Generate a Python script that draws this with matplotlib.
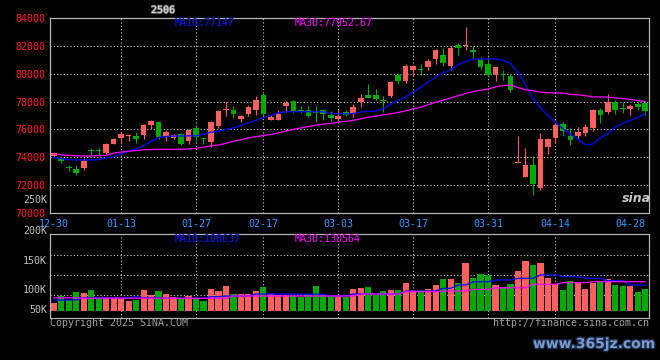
import numpy as np
import matplotlib
matplotlib.use("Agg")
import matplotlib.pyplot as plt
import matplotlib.patheffects as pe

plt.rcParams['font.family'] = 'DejaVu Sans Mono'

# trading days of contract 2506
dates = ['12-30', '12-31', '01-02', '01-03', '01-06', '01-07', '01-08', '01-09', '01-10', '01-13',
         '01-14', '01-15', '01-16', '01-17', '01-20', '01-21', '01-22', '01-23', '01-24', '01-27',
         '02-05', '02-06', '02-07', '02-10', '02-11', '02-12', '02-13', '02-14', '02-17', '02-18',
         '02-19', '02-20', '02-21', '02-24', '02-25', '02-26', '02-27', '02-28', '03-03', '03-04',
         '03-05', '03-06', '03-07', '03-10', '03-11', '03-12', '03-13', '03-14', '03-17', '03-18',
         '03-19', '03-20', '03-21', '03-24', '03-25', '03-26', '03-27', '03-28', '03-31', '04-01',
         '04-02', '04-03', '04-07', '04-08', '04-09', '04-10', '04-11', '04-14', '04-15', '04-16',
         '04-17', '04-18', '04-21', '04-22', '04-23', '04-24', '04-25', '04-28', '04-29', '04-30']

opens = [74090, 73980, 73300, 73190, 73240, 74520, 74520, 74290, 74980, 75360,
         75550, 75520, 75570, 76310, 76500, 75430, 75380, 75640, 75140, 76120,
         75330, 75090, 76240, 77400, 77430, 76750, 77140, 77430, 78500, 76710,
         76710, 77660, 78020, 77380, 77430, 77210, 77380, 77000, 76760, 77240,
         77140, 77980, 78500, 78500, 78100, 78380, 79930, 79450, 80290, 80310,
         80480, 81050, 81360, 80520, 82070, 81980, 81710, 81000, 80710, 79880,
         79950, 79860, 73620, 72590, 73430, 71790, 74760, 75410, 76360, 75520,
         75520, 75760, 76070, 77430, 77260, 77980, 77500, 77500, 77790, 77900]
closes = [74330, 73740, 73220, 72860, 73710, 74480, 74460, 74930, 75290, 75670,
          75590, 75290, 76290, 76600, 75480, 75790, 75570, 74930, 75950, 75480,
          75310, 76520, 77310, 77450, 77140, 77000, 77590, 78140, 77100, 76910,
          77140, 77900, 77310, 77300, 76950, 77170, 77140, 76810, 76950, 77070,
          77590, 78260, 78260, 78210, 78050, 79410, 79450, 80520, 80570, 80270,
          80930, 81710, 80790, 81880, 81880, 82020, 81590, 80450, 79930, 80480,
          79910, 78860, 73640, 73430, 72070, 75290, 75290, 76290, 75880, 75210,
          75810, 76170, 77380, 77070, 77950, 77380, 77460, 77660, 77590, 77300]
highs = [74400, 74100, 73480, 73430, 73950, 74690, 74660, 75000, 75410, 75810,
         75640, 75810, 76410, 76710, 76620, 75950, 75640, 75710, 76020, 76290,
         75350, 76590, 77430, 77980, 77660, 77070, 77760, 78380, 78690, 77070,
         77430, 78020, 78140, 77660, 77660, 77660, 77450, 77290, 77430, 77430,
         77800, 78570, 79290, 78930, 78380, 79480, 80020, 80690, 80570, 80690,
         81050, 81780, 81880, 82000, 82190, 83380, 82000, 81190, 81190, 80480,
         80290, 79980, 75520, 74640, 74090, 75710, 75360, 76480, 76520, 76120,
         76190, 76410, 77480, 77550, 78570, 78140, 77980, 77790, 78020, 78020]
lows = [74000, 73620, 73020, 72710, 73100, 74170, 74200, 74250, 74930, 74930,
        75140, 75000, 75340, 76000, 75290, 75160, 75290, 74860, 74930, 75140,
        74980, 74760, 76120, 76950, 76840, 76520, 77000, 77070, 77000, 76660,
        76660, 77260, 77190, 77190, 76910, 76520, 76700, 76620, 76600, 76950,
        76900, 77590, 78260, 78140, 77260, 78310, 79260, 79310, 79860, 79930,
        80240, 80720, 80520, 80240, 81360, 81710, 81050, 80260, 79740, 79450,
        79570, 78670, 73620, 72590, 71310, 71660, 74210, 75000, 75520, 74880,
        75290, 75520, 75880, 76480, 77120, 77120, 77190, 77020, 77380, 77050]
ma10 = [73980, 73910, 73830, 73810, 73810, 73810, 73830, 73950, 74050, 74260,
        74440, 74600, 74820, 75150, 75420, 75500, 75520, 75530, 75540, 75540,
        75660, 75800, 75870, 76000, 76120, 76290, 76480, 76650, 76850, 77000,
        77200, 77260, 77270, 77270, 77270, 77270, 77260, 77150, 77120, 77120,
        77150, 77250, 77300, 77320, 77500, 77800, 78070, 78330, 78680, 79020,
        79400, 79750, 80050, 80300, 80640, 80880, 81050, 81060, 81060, 81060,
        80960, 80750, 80100, 79200, 78250, 77550, 77000, 76500, 76050, 75650,
        75300, 74900, 74950, 75400, 75700, 76150, 76450, 76650, 76850, 77150]
ma30 = [74250, 74180, 74140, 74120, 74090, 74090, 74120, 74140, 74300, 74380,
        74430, 74480, 74540, 74560, 74570, 74570, 74570, 74570, 74600, 74640,
        74720, 74830, 74880, 75000, 75150, 75250, 75400, 75480, 75560, 75640,
        75760, 75880, 76000, 76110, 76200, 76300, 76380, 76430, 76520, 76580,
        76650, 76760, 76880, 76950, 77050, 77120, 77220, 77330, 77480, 77590,
        77780, 77950, 78100, 78260, 78420, 78580, 78720, 78820, 78900, 79050,
        79150, 79180, 79000, 78850, 78780, 78680, 78640, 78620, 78610, 78520,
        78480, 78420, 78340, 78330, 78320, 78260, 78220, 78150, 78080, 78000]

# volume in thousands
volume = [30.8, 47.5, 37.5, 58.3, 55.8, 62.5, 41.7, 44.2, 44.2, 40.0,
          35.0, 37.5, 62.5, 50.0, 60.0, 52.5, 44.0, 41.7, 47.5, 41.7,
          35.8, 65.0, 60.0, 72.5, 52.5, 52.5, 52.5, 60.0, 70.0, 52.5,
          49.0, 49.0, 47.5, 45.8, 52.5, 72.5, 50.0, 47.5, 47.5, 45.8,
          65.0, 68.0, 70.8, 50.0, 60.0, 62.5, 62.5, 80.8, 62.5, 62.5,
          65.0, 75.0, 90.0, 90.0, 80.8, 130.8, 93.3, 102.5, 100.0, 75.0,
          68.0, 77.5, 110.0, 135.0, 125.0, 130.8, 93.3, 76.7, 62.5, 85.0,
          80.8, 65.0, 80.8, 85.0, 90.0, 75.0, 72.5, 72.5, 58.3, 65.0]
vol_ma10 = [37.5, 37.5, 37.5, 38.0, 43.0, 43.0, 43.0, 43.0, 43.0, 43.0,
            43.0, 45.8, 43.0, 43.0, 43.0, 41.7, 41.7, 41.7, 41.7, 41.7,
            41.7, 45.8, 45.8, 47.5, 47.5, 47.5, 47.5, 52.5, 52.5, 52.5,
            52.5, 52.5, 52.5, 52.0, 52.0, 52.0, 52.0, 47.5, 47.5, 47.5,
            52.5, 52.5, 52.5, 52.5, 52.5, 52.5, 52.5, 60.0, 60.0, 60.0,
            60.0, 60.0, 66.7, 66.7, 75.0, 75.0, 83.0, 83.0, 83.0, 87.5,
            87.5, 87.5, 91.7, 91.7, 91.7, 100.0, 100.0, 100.0, 95.8, 95.8,
            95.8, 91.7, 91.7, 91.7, 85.8, 85.8, 85.8, 75.0, 75.0, 75.0]
vol_ma30 = [43.0, 43.0, 43.0, 43.0, 42.0, 42.0, 42.0, 42.0, 42.0, 42.0,
            42.0, 42.0, 42.0, 42.0, 42.0, 41.7, 41.7, 41.7, 41.7, 41.7,
            41.7, 41.7, 41.7, 41.7, 47.5, 47.5, 47.5, 47.5, 47.5, 47.5,
            47.5, 47.5, 47.5, 47.5, 47.5, 47.5, 47.5, 47.5, 47.5, 47.5,
            47.5, 52.5, 52.5, 52.5, 52.5, 52.5, 52.5, 58.3, 58.3, 58.3,
            58.3, 58.3, 60.0, 60.0, 60.0, 60.0, 64.0, 64.0, 64.0, 68.0,
            68.0, 68.0, 68.0, 68.0, 76.7, 76.7, 76.7, 76.7, 80.8, 80.8,
            80.8, 80.8, 83.3, 83.3, 83.3, 83.3, 83.3, 83.3, 83.3, 83.3]

date_labels = ['12-30', '01-13', '01-27', '02-17', '03-03', '03-17', '03-31', '04-14', '04-28']
price_ticks = [70000, 72000, 74000, 76000, 78000, 80000, 82000, 84000]
vol_grid = [50, 100, 150]
vol_labels = ['250K', '200K', '150K', '100K', '50K']
vol_label_y = [200, 231, 261, 290, 310]   # pixel rows of the left labels

RED = '#ff5f5f'
GREEN = '#00a800'
GRID = '#c8c8c8'
W, H = 660, 360


def box(l, t, r, b):
    return [l / W, 1 - b / H, (r - l) / W, (b - t) / H]


x = np.arange(len(dates))
o = np.array(opens)
c = np.array(closes)
col = np.where(c >= o, RED, GREEN)
tick_idx = [dates.index(d) for d in date_labels]

fig = plt.figure(figsize=(6.6, 3.6), dpi=100, facecolor='black')
ax = fig.add_axes(box(50, 18, 649, 213), facecolor='black')
axv = fig.add_axes(box(50, 234, 649, 318), facecolor='black')

# K线
ax.vlines(x, lows, highs, colors=col, lw=0.8, zorder=3)
ax.bar(x, np.maximum(np.abs(c - o), 50), bottom=np.minimum(o, c), width=0.75,
       color=col, lw=0, zorder=3)
ax.plot(x, ma10, color='#0000ff', lw=0.9, zorder=4)
ax.plot(x, ma30, color='#ff00ff', lw=0.9, zorder=4)
ax.set_xlim(-0.5, len(dates) - 0.5)
ax.set_ylim(70000, 84000)
ax.set_yticks(price_ticks)
ax.set_yticklabels([str(p) for p in price_ticks])
ax.yaxis.grid(True, color=GRID, linestyle=(0, (1, 2)), lw=0.8)
for i in tick_idx[1:-1]:
    ax.axvline(i, color=GRID, linestyle=(0, (1, 2)), lw=0.8, zorder=1)
ax.set_axisbelow(True)
ax.set_xticks(tick_idx)
ax.set_xticklabels(date_labels)
ax.tick_params(axis='y', length=0, pad=3, labelsize=7.2, labelcolor='#ff2020')
ax.tick_params(axis='x', length=0, pad=4, labelsize=7.2, labelcolor='#3399ff')

# volume
axv.bar(x, np.array(volume) - 10, bottom=10, width=0.82, color=col, lw=0, zorder=2)
axv.plot(x, vol_ma10, color='#0000ff', lw=0.9, zorder=3)
axv.plot(x, vol_ma30, color='#ff00ff', lw=0.9, zorder=3)
axv.set_xlim(-0.5, len(dates) - 0.5)
axv.set_ylim(-7.5, 202.5)
axv.set_yticks(vol_grid)
axv.yaxis.grid(True, color=GRID, linestyle=(0, (1, 2)), lw=0.8)
for i in tick_idx[1:-1]:
    axv.axvline(i, color=GRID, linestyle=(0, (1, 2)), lw=0.8, zorder=1)
axv.set_axisbelow(True)
axv.set_xticks([])
axv.tick_params(axis='y', length=0, labelleft=False)

for a in (ax, axv):
    for s in a.spines.values():
        s.set_color('#b4b4b4')
        s.set_linewidth(0.9)
ax.spines['top'].set_linestyle((0, (1, 1)))
ax.spines['bottom'].set_linestyle((0, (1, 1)))

for lab, yp in zip(vol_labels, vol_label_y):
    fig.text(47 / W, 1 - yp / H, lab, color='#c0c0c0', size=7.2, ha='right', va='center')

fs = 7.2
fig.text(163 / W, 1 - 10 / H, '2506', color='#e0e0e0', size=fs, ha='center', va='center',
         path_effects=[pe.withStroke(linewidth=1.2, foreground='#707070')])
fig.text(175 / W, 1 - 23 / H, 'MA10:77147', color='#1010ff', size=fs, va='center')
fig.text(295 / W, 1 - 23 / H, 'MA30:77952.67', color='#ff00ff', size=fs, va='center')
fig.text(175 / W, 1 - 238.5 / H, 'MA10:108637', color='#1010ff', size=fs, va='center')
fig.text(295 / W, 1 - 238.5 / H, 'MA30:130564', color='#ff00ff', size=fs, va='center')
fig.text(50 / W, 1 - 323.5 / H, 'Copyright 2025 SINA.COM', color='#a0a0a0', size=fs, va='center')
fig.text(649 / W, 1 - 323.5 / H, 'http://finance.sina.com.cn', color='#a0a0a0', size=fs,
         ha='right', va='center')
fig.text(636 / W, 1 - 198 / H, 'sina', color='#c8c8c8', size=9, ha='center', va='center',
         family='DejaVu Sans', weight='bold', style='italic')
fig.text(594 / W, 1 - 344 / H, 'www.365jz.com', color='#7c9ccc', size=10, ha='center',
         va='center', family='DejaVu Sans', weight='bold',
         path_effects=[pe.withStroke(linewidth=2, foreground='#1a2a4a')])

fig.savefig('out.png', dpi=100, facecolor='black')
